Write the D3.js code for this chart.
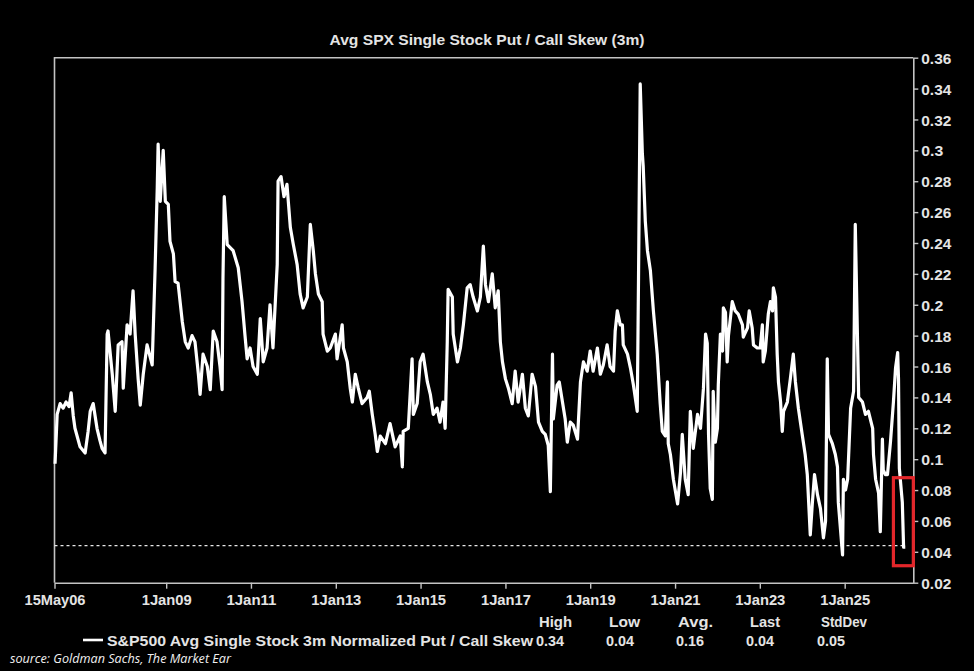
<!DOCTYPE html>
<html>
<head>
<meta charset="utf-8">
<script src="https://cdn.jsdelivr.net/npm/d3@7"></script>
<style>
  html, body { margin: 0; padding: 0; background: #000; }
  svg { display: block; }
  .lbl { font-family: "Liberation Sans Narrow", "Arial Narrow", "Liberation Sans", Arial, sans-serif; font-weight: bold; fill: #e4e4e4; }
</style>
</head>
<body>
<div id="chart"></div>
<script>
const title = "Avg SPX Single Stock Put / Call Skew (3m)";
const seriesName = "S&P500 Avg Single Stock 3m Normalized Put / Call Skew";
const statHeaders = ["High", "Low", "Avg.", "Last", "StdDev"];
const statValues = ["0.34", "0.04", "0.16", "0.04", "0.05"];
const yTicks = [0.02, 0.04, 0.06, 0.08, 0.1, 0.12, 0.14, 0.16, 0.18, 0.2, 0.22, 0.24, 0.26, 0.28, 0.3, 0.32, 0.34, 0.36];
const xTicks = ["2006-05-15", "2009-01-01", "2011-01-01", "2013-01-01", "2015-01-01", "2017-01-01", "2019-01-01", "2021-01-01", "2023-01-01", "2025-01-01"];
const xDomain = ["2006-05-15", "2026-08-15"];
const lastLevel = 0.044;
const boxYears = [2026.15, 2026.62];
const boxValues = [0.031, 0.088];

// decimal year of each reading
const years = [
  2006.38, 2006.43, 2006.50, 2006.57, 2006.64, 2006.71, 2006.76, 2006.81, 2006.85, 2006.97,
  2007.09, 2007.16, 2007.21, 2007.28, 2007.37, 2007.44, 2007.49, 2007.56, 2007.61, 2007.63, 2007.73, 2007.80, 2007.87, 2007.96, 2007.99,
  2008.08, 2008.15, 2008.22, 2008.27, 2008.34, 2008.39, 2008.46, 2008.55, 2008.67, 2008.74, 2008.79, 2008.81, 2008.86, 2008.93, 2008.98,
  2009.05, 2009.09, 2009.17, 2009.21, 2009.28, 2009.38, 2009.45, 2009.52, 2009.61, 2009.68, 2009.76, 2009.80, 2009.87, 2009.97,
  2010.04, 2010.11, 2010.20, 2010.27, 2010.32, 2010.34, 2010.37, 2010.44, 2010.58, 2010.70, 2010.79, 2010.86, 2010.91, 2010.98,
  2011.05, 2011.15, 2011.22, 2011.29, 2011.38, 2011.45, 2011.52, 2011.62, 2011.64, 2011.71, 2011.78, 2011.85, 2011.93,
  2012.00, 2012.09, 2012.16, 2012.23, 2012.33, 2012.40, 2012.47, 2012.52, 2012.59, 2012.68, 2012.70, 2012.80, 2012.87, 2012.99,
  2013.03, 2013.15, 2013.18, 2013.27, 2013.34, 2013.39, 2013.46, 2013.53, 2013.62, 2013.74, 2013.79, 2013.86, 2013.93, 2013.98,
  2014.05, 2014.17, 2014.28, 2014.40, 2014.52, 2014.57, 2014.59, 2014.71, 2014.80, 2014.83, 2014.92, 2014.99,
  2015.06, 2015.16, 2015.23, 2015.30, 2015.39, 2015.46, 2015.53, 2015.58, 2015.63, 2015.65, 2015.75, 2015.77, 2015.87, 2015.94,
  2016.01, 2016.10, 2016.17, 2016.24, 2016.34, 2016.41, 2016.48, 2016.53, 2016.60, 2016.69, 2016.76, 2016.83, 2016.88, 2016.93,
  2017.00, 2017.07, 2017.16, 2017.23, 2017.30, 2017.40, 2017.47, 2017.54, 2017.63, 2017.71, 2017.78, 2017.87, 2017.94,
  2018.01, 2018.06, 2018.11, 2018.13, 2018.22, 2018.27, 2018.34, 2018.41, 2018.46, 2018.53, 2018.60, 2018.70, 2018.77, 2018.84, 2018.93,
  2019.00, 2019.07, 2019.17, 2019.24, 2019.31, 2019.40, 2019.47, 2019.55, 2019.59, 2019.64, 2019.71, 2019.76, 2019.78, 2019.88, 2019.95,
  2020.02, 2020.11, 2020.14, 2020.18, 2020.23, 2020.25, 2020.30, 2020.35, 2020.42, 2020.49, 2020.58, 2020.65, 2020.70, 2020.77, 2020.82, 2020.84, 2020.89, 2020.96,
  2021.06, 2021.13, 2021.17, 2021.24, 2021.31, 2021.36, 2021.43, 2021.53, 2021.60, 2021.67, 2021.72, 2021.76, 2021.79, 2021.83, 2021.88, 2021.90, 2021.95,
  2022.00, 2022.02, 2022.07, 2022.12, 2022.14, 2022.19, 2022.23, 2022.26, 2022.35, 2022.42, 2022.49, 2022.59, 2022.61, 2022.71, 2022.75, 2022.82, 2022.85, 2022.94,
  2023.01, 2023.06, 2023.08, 2023.13, 2023.20, 2023.25, 2023.30, 2023.32, 2023.37, 2023.41, 2023.44, 2023.49, 2023.53, 2023.56, 2023.65, 2023.72, 2023.79, 2023.84, 2023.91,
  2024.00, 2024.07, 2024.12, 2024.19, 2024.24, 2024.29, 2024.36, 2024.43, 2024.50, 2024.55, 2024.59, 2024.62, 2024.71, 2024.78, 2024.83, 2024.85, 2024.95, 2024.97,
  2025.02, 2025.07, 2025.14, 2025.21, 2025.25, 2025.30, 2025.33, 2025.42, 2025.49, 2025.56, 2025.66, 2025.68, 2025.73, 2025.80, 2025.84, 2025.89, 2025.91, 2025.96,
  2026.01, 2026.08, 2026.15, 2026.20, 2026.25, 2026.27, 2026.29, 2026.36, 2026.39, 2026.43
];

const skew = [
  0.097, 0.129, 0.136, 0.133, 0.137, 0.134, 0.143, 0.128, 0.120, 0.108,
  0.104, 0.118, 0.131, 0.136, 0.120, 0.112, 0.107, 0.104, 0.181, 0.183, 0.155, 0.131, 0.174, 0.176, 0.146,
  0.187, 0.181, 0.209, 0.181, 0.152, 0.135, 0.155, 0.174, 0.161, 0.224, 0.276, 0.304, 0.267, 0.300, 0.267,
  0.265, 0.241, 0.233, 0.215, 0.214, 0.189, 0.176, 0.172, 0.180, 0.176, 0.155, 0.142, 0.168, 0.160,
  0.145, 0.183, 0.176, 0.160, 0.145, 0.217, 0.270, 0.239, 0.235, 0.224, 0.202, 0.180, 0.165, 0.172,
  0.160, 0.155, 0.191, 0.163, 0.172, 0.200, 0.172, 0.226, 0.280, 0.283, 0.270, 0.278, 0.250,
  0.239, 0.226, 0.207, 0.198, 0.205, 0.252, 0.235, 0.220, 0.207, 0.202, 0.181, 0.170, 0.172, 0.181,
  0.165, 0.187, 0.172, 0.163, 0.146, 0.137, 0.155, 0.146, 0.136, 0.140, 0.144, 0.129, 0.116, 0.105,
  0.115, 0.110, 0.123, 0.108, 0.115, 0.095, 0.118, 0.120, 0.165, 0.129, 0.136, 0.163,
  0.168, 0.150, 0.142, 0.129, 0.133, 0.124, 0.137, 0.120, 0.176, 0.210, 0.205, 0.181, 0.163, 0.172,
  0.187, 0.211, 0.213, 0.205, 0.196, 0.205, 0.238, 0.213, 0.202, 0.220, 0.198, 0.209, 0.176, 0.163,
  0.152, 0.146, 0.136, 0.157, 0.137, 0.155, 0.133, 0.128, 0.155, 0.147, 0.124, 0.118, 0.116,
  0.109, 0.079, 0.168, 0.126, 0.148, 0.150, 0.138, 0.126, 0.111, 0.124, 0.122, 0.113, 0.150, 0.163, 0.157,
  0.170, 0.157, 0.172, 0.155, 0.161, 0.174, 0.160, 0.157, 0.183, 0.196, 0.187, 0.187, 0.174, 0.168, 0.159,
  0.148, 0.131, 0.217, 0.343, 0.298, 0.290, 0.254, 0.235, 0.222, 0.196, 0.168, 0.136, 0.118, 0.115, 0.150, 0.110, 0.103, 0.087,
  0.071, 0.092, 0.116, 0.087, 0.077, 0.131, 0.107, 0.129, 0.120, 0.146, 0.181, 0.175, 0.116, 0.081, 0.074, 0.144, 0.111,
  0.120, 0.148, 0.181, 0.170, 0.198, 0.195, 0.163, 0.180, 0.202, 0.196, 0.194, 0.187, 0.179, 0.185, 0.196, 0.185, 0.174, 0.172,
  0.172, 0.187, 0.163, 0.170, 0.194, 0.202, 0.196, 0.211, 0.205, 0.168, 0.150, 0.137, 0.118, 0.131, 0.137, 0.152, 0.168, 0.150, 0.133,
  0.116, 0.103, 0.090, 0.051, 0.072, 0.090, 0.077, 0.068, 0.049, 0.060, 0.165, 0.116, 0.110, 0.103, 0.095, 0.072, 0.038, 0.087,
  0.080, 0.087, 0.133, 0.144, 0.252, 0.181, 0.140, 0.137, 0.129, 0.131, 0.120, 0.103, 0.087, 0.078, 0.053, 0.113, 0.093, 0.090,
  0.090, 0.111, 0.137, 0.159, 0.169, 0.152, 0.094, 0.072, 0.043, 0.043
];

const parseDay = d3.timeParse("%Y-%m-%d");

function yearToDate(y) {
  const yr = Math.floor(y);
  const a = new Date(yr, 0, 1);
  const b = new Date(yr + 1, 0, 1);
  return new Date(+a + (y - yr) * (b - a));
}

drawChart();

function drawChart() {
  const W = 974, H = 671;
  const margin = {top: 57.7, left: 54.5, right: 974 - 913.3, bottom: 671 - 582.7};
  const width = W - margin.left - margin.right;
  const height = H - margin.top - margin.bottom;
  const frame = "#c4c4c4";

  const data = years.map((y, i) => ({date: yearToDate(y), v: skew[i]}));

  const svg = d3.select("#chart")
                .append("svg")
                .attr("width", W)
                .attr("height", H);

  svg.append("rect")
     .attr("width", W)
     .attr("height", H)
     .attr("fill", "#000");

  svg.append("text")
     .attr("class", "lbl")
     .attr("x", 487)
     .attr("y", 45)
     .attr("text-anchor", "middle")
     .attr("font-size", 14)
     .attr("textLength", 315)
     .attr("lengthAdjust", "spacingAndGlyphs")
     .text(title);

  const g = svg.append("g")
               .attr("transform", "translate(" + margin.left + "," + margin.top + ")");

  const x = d3.scaleTime()
              .domain(xDomain.map(parseDay))
              .range([0, width]);

  const y = d3.scaleLinear()
              .domain([0.02, 0.36])
              .range([height, 0]);

  // frame: top and left edges
  g.append("path")
   .attr("d", "M0," + height + "V0H" + width)
   .attr("fill", "none")
   .attr("stroke", frame)
   .attr("stroke-width", 1.6);

  const xAxis = g.append("g")
                 .attr("transform", "translate(0," + height + ")")
                 .call(d3.axisBottom(x)
                         .tickValues(xTicks.map(parseDay))
                         .tickFormat(d3.timeFormat("%-d%b%y"))
                         .tickSize(6)
                         .tickSizeOuter(0)
                         .tickPadding(5));

  const yAxis = g.append("g")
                 .attr("transform", "translate(" + width + ",0)")
                 .call(d3.axisRight(y)
                         .tickValues(yTicks)
                         .tickFormat(d => String(+d.toFixed(2)))
                         .tickSize(5)
                         .tickSizeOuter(0)
                         .tickPadding(3));

  [xAxis, yAxis].forEach(ax => {
    ax.select(".domain").attr("stroke", frame).attr("stroke-width", 1.6);
    ax.selectAll(".tick line").attr("stroke", frame).attr("stroke-width", 1.4);
    ax.selectAll(".tick text")
      .attr("class", "lbl")
      .attr("font-size", 15.5)
      .attr("fill", "#e4e4e4");
  });
  xAxis.selectAll(".tick text")
       .attr("textLength", d => d.getMonth() === 4 ? 61 : 50)
       .attr("lengthAdjust", "spacingAndGlyphs");
  yAxis.selectAll(".tick text")
       .attr("dy", "0.36em")
       .attr("textLength", d => d.toFixed(2).replace(/0$/, "").length > 3 ? 30 : 22)
       .attr("lengthAdjust", "spacingAndGlyphs");

  // last value reference line
  g.append("line")
   .attr("x1", 0)
   .attr("x2", x(yearToDate(years[years.length - 1])))
   .attr("y1", y(lastLevel))
   .attr("y2", y(lastLevel))
   .attr("stroke", "#e8e8e8")
   .attr("stroke-width", 1.2)
   .attr("stroke-dasharray", "3,3");

  const line = d3.line()
                 .x(d => x(d.date))
                 .y(d => y(d.v));

  g.append("path")
   .datum(data)
   .attr("d", line)
   .attr("fill", "none")
   .attr("stroke", "#fff")
   .attr("stroke-width", 3.2)
   .attr("stroke-linejoin", "round");

  // red highlight box
  const bx0 = x(yearToDate(boxYears[0]));
  const bx1 = x(yearToDate(boxYears[1]));
  g.append("rect")
   .attr("x", bx0)
   .attr("y", y(boxValues[1]))
   .attr("width", bx1 - bx0)
   .attr("height", y(boxValues[0]) - y(boxValues[1]))
   .attr("fill", "none")
   .attr("stroke", "#e3262a")
   .attr("stroke-width", 3.2);

  // legend + stats
  const statX = [539, 609, 678, 750, 821];
  const statW = [33, 31, 35, 30, 46];
  const valX = [536, 606, 676, 746, 817];

  svg.selectAll(".hdr")
     .data(statHeaders)
     .join("text")
     .attr("class", "lbl hdr")
     .attr("x", (d, i) => statX[i])
     .attr("y", 627)
     .attr("font-size", 15)
     .attr("textLength", (d, i) => statW[i])
     .attr("lengthAdjust", "spacingAndGlyphs")
     .text(d => d);

  svg.selectAll(".val")
     .data(statValues)
     .join("text")
     .attr("class", "lbl val")
     .attr("x", (d, i) => valX[i])
     .attr("y", 646)
     .attr("font-size", 15)
     .attr("textLength", 28)
     .attr("lengthAdjust", "spacingAndGlyphs")
     .text(d => d);

  svg.append("line")
     .attr("x1", 83)
     .attr("x2", 103)
     .attr("y1", 640)
     .attr("y2", 640)
     .attr("stroke", "#fff")
     .attr("stroke-width", 2.6);

  svg.append("text")
     .attr("class", "lbl")
     .attr("x", 107)
     .attr("y", 646)
     .attr("font-size", 15)
     .attr("textLength", 426)
     .attr("lengthAdjust", "spacingAndGlyphs")
     .text(seriesName);

  svg.append("text")
     .attr("x", 10)
     .attr("y", 663)
     .attr("font-family", "'Open Sans', 'Liberation Sans', sans-serif")
     .attr("font-style", "italic")
     .attr("font-size", 13)
     .attr("fill", "#f0f0f0")
     .attr("textLength", 221)
     .attr("lengthAdjust", "spacingAndGlyphs")
     .text("source: Goldman Sachs, The Market Ear");
}
</script>
</body>
</html>
